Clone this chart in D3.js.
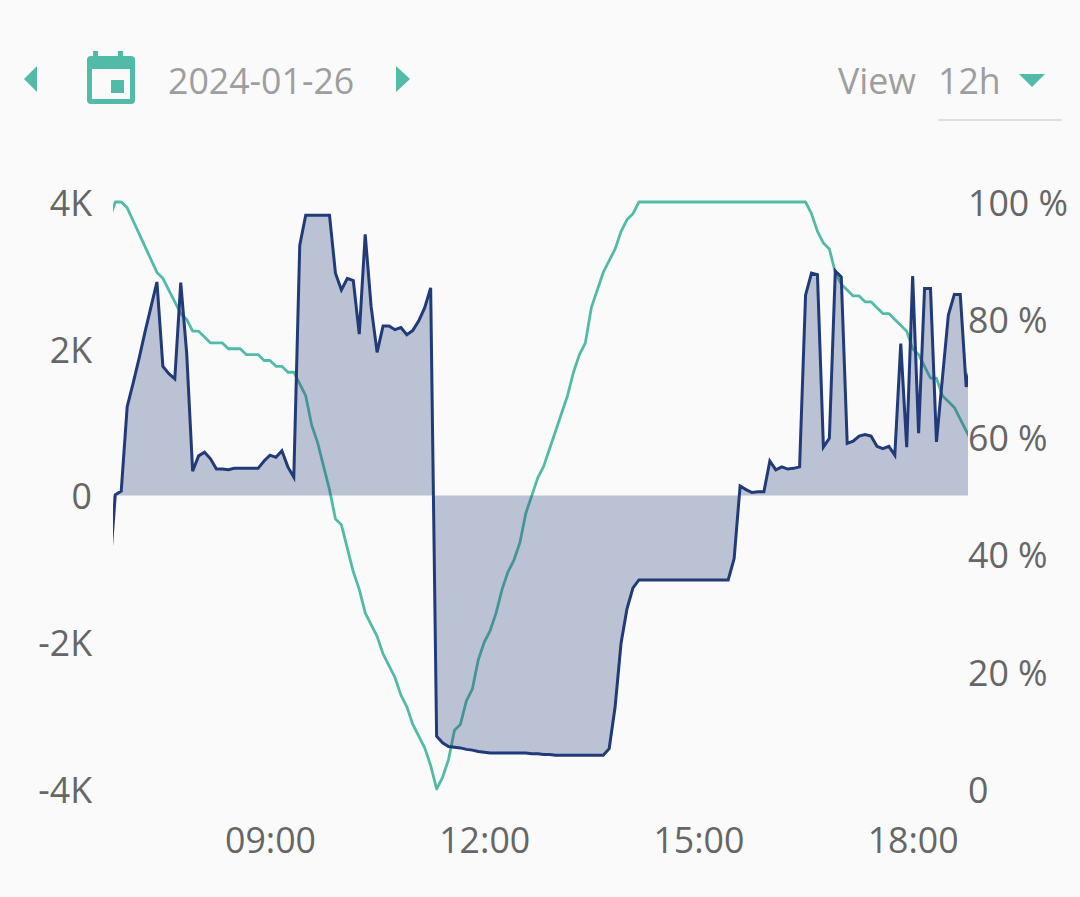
<!DOCTYPE html>
<html>
<head>
<meta charset="utf-8">
<script src="https://cdn.jsdelivr.net/npm/d3@7"></script>
<style>
  html, body { margin: 0; background: #fafafa; }
  svg { display: block; }
  text { font-family: "Open Sans", sans-serif; }
</style>
</head>
<body>
<script>
// samples every 5 minutes, first one at 06:45
const startTime = new Date(2024, 0, 26, 6, 45);
const stepMinutes = 5;

// power in K
const power = [
  -1.10, 0.01, 0.06, 1.21, 1.53, 1.87, 2.23, 2.57, 2.91, 1.76,
  1.66, 1.59, 2.90, 1.94, 0.33, 0.54, 0.59, 0.50, 0.36, 0.36,
  0.35, 0.37, 0.37, 0.37, 0.37, 0.37, 0.47, 0.55, 0.52, 0.61,
  0.39, 0.25, 3.41, 3.82, 3.82, 3.82, 3.82, 3.82, 3.03, 2.80,
  2.96, 2.93, 2.20, 3.56, 2.57, 1.95, 2.31, 2.31, 2.26, 2.29,
  2.19, 2.25, 2.38, 2.56, 2.83, -3.28, -3.37, -3.42, -3.43, -3.44,
  -3.46, -3.47, -3.49, -3.50, -3.51, -3.51, -3.51, -3.51, -3.51, -3.51,
  -3.51, -3.52, -3.52, -3.53, -3.53, -3.54, -3.54, -3.54, -3.54, -3.54,
  -3.54, -3.54, -3.54, -3.54, -3.45, -2.88, -2.01, -1.54, -1.26, -1.15,
  -1.15, -1.15, -1.15, -1.15, -1.15, -1.15, -1.15, -1.15, -1.15, -1.15,
  -1.15, -1.15, -1.15, -1.15, -1.15, -0.86, 0.13, 0.08, 0.04, 0.05,
  0.05, 0.47, 0.35, 0.39, 0.36, 0.37, 0.39, 2.73, 3.03, 3.01,
  0.66, 0.78, 3.06, 2.98, 0.71, 0.74, 0.81, 0.83, 0.81, 0.67,
  0.64, 0.67, 0.55, 2.07, 0.66, 2.99, 0.85, 2.82, 2.82, 0.73,
  1.60, 2.46, 2.74, 2.74, 1.48, 1.85
];

// battery level in %
const level = [
  97, 100, 100, 99, 96.8, 94.6, 92.4, 90.2, 88, 87,
  85, 83, 81, 80, 78, 78, 77, 76, 76, 76,
  75, 75, 75, 74, 74, 74, 73, 73, 72, 72,
  71, 71, 69, 67, 62, 59, 55, 51, 46, 45,
  41, 37, 34, 30, 28, 26, 23, 21, 19, 16,
  14, 11, 9, 7, 4, 0, 2, 5, 10, 11,
  15, 17, 22, 25, 27, 30, 34, 37, 39, 42,
  47, 50, 53, 55, 58, 61, 64, 67, 71, 74,
  76, 82, 85, 88, 90, 92, 95, 97, 98, 100,
  100, 100, 100, 100, 100, 100, 100, 100, 100, 100,
  100, 100, 100, 100, 100, 100, 100, 100, 100, 100,
  100, 100, 100, 100, 100, 100, 100, 100, 98, 95,
  93, 92, 88, 86, 85, 84, 84, 83, 83, 82,
  81, 81, 80, 79, 78, 75, 74, 72, 70, 70,
  67, 66, 65, 63, 61, 59
];

const powerTicks = [-4, -2, 0, 2, 4];
const levelTicks = [0, 20, 40, 60, 80, 100];
const hourTicks = [9, 12, 15, 18];

const width = 1080, height = 897;
const teal = "#52bba8", navy = "#213a78", grey = "#9e9e9e", axisGrey = "#666666";
const fontSize = 35.7;

const svg = d3.select("body").append("svg")
    .attr("width", width)
    .attr("height", height);

const times = power.map((d, i) => d3.timeMinute.offset(startTime, i * stepMinutes));

const x = d3.scaleTime()
    .domain([new Date(2024, 0, 26, 6, 48, 5), new Date(2024, 0, 26, 18, 46, 30)])
    .range([113, 968]);
const yPower = d3.scaleLinear().domain([-4, 4]).range([789, 202]);
const yLevel = d3.scaleLinear().domain([0, 100]).range([789, 202]);

svg.append("clipPath").attr("id", "plot")
  .append("rect")
    .attr("x", 113).attr("y", 190)
    .attr("width", 855).attr("height", 610);

const plot = svg.append("g").attr("clip-path", "url(#plot)");

// level goes under the area, it shows through
plot.append("path")
    .attr("fill", "none")
    .attr("stroke", teal)
    .attr("stroke-width", 2.8)
    .attr("stroke-linejoin", "round")
    .attr("d", d3.line().x((d, i) => x(times[i])).y(d => yLevel(d))(level));

plot.append("path")
    .attr("fill", navy)
    .attr("fill-opacity", 0.29)
    .attr("d", d3.area().x((d, i) => x(times[i])).y0(yPower(0)).y1(d => yPower(d))(power));

plot.append("path")
    .attr("fill", "none")
    .attr("stroke", navy)
    .attr("stroke-width", 3)
    .attr("stroke-linejoin", "miter")
    .attr("d", d3.line().x((d, i) => x(times[i])).y(d => yPower(d))(power));

// axes
function styleAxis(g) {
  g.attr("font-family", null).attr("font-size", fontSize);
  g.select(".domain").remove();
  g.selectAll("text").attr("fill", axisGrey);
}

svg.append("g")
    .attr("transform", "translate(92,2)")
    .call(d3.axisLeft(yPower).tickValues(powerTicks).tickSize(0).tickPadding(0)
      .tickFormat(d => d === 0 ? "0" : d + "K"))
    .call(styleAxis);

svg.append("g")
    .attr("transform", "translate(968,2)")
    .call(d3.axisRight(yLevel).tickValues(levelTicks).tickSize(0).tickPadding(0)
      .tickFormat(d => d === 0 ? "0" : d + " %"))
    .call(styleAxis);

svg.append("g")
    .attr("transform", "translate(0,827.5)")
    .call(d3.axisBottom(x)
      .tickValues(hourTicks.map(h => new Date(2024, 0, 26, h)))
      .tickSize(0).tickPadding(0)
      .tickFormat(d3.timeFormat("%H:%M")))
    .call(styleAxis);

// header controls
const header = svg.append("g");

function triangle(a, b, c) {
  const p = d3.path();
  p.moveTo(a[0], a[1]);
  p.lineTo(b[0], b[1]);
  p.lineTo(c[0], c[1]);
  p.closePath();
  return p.toString();
}

header.append("path").attr("fill", teal).attr("d", triangle([24, 79], [37, 66], [37, 92]));
header.append("path").attr("fill", teal).attr("d", triangle([410, 79], [396, 66], [396, 92]));
header.append("path").attr("fill", teal).attr("d", triangle([1019, 74], [1045, 74], [1032, 87]));

header.append("rect").attr("x", 87).attr("y", 56).attr("width", 48).attr("height", 48).attr("rx", 4).attr("fill", teal);
header.append("rect").attr("x", 93).attr("y", 51).attr("width", 5).attr("height", 8).attr("fill", teal);
header.append("rect").attr("x", 118).attr("y", 51).attr("width", 5).attr("height", 8).attr("fill", teal);
header.append("rect").attr("x", 92).attr("y", 69).attr("width", 38).attr("height", 30).attr("fill", "#fafafa");
header.append("rect").attr("x", 111).attr("y", 80).attr("width", 13).attr("height", 13).attr("fill", teal);

header.append("text").attr("x", 168).attr("y", 94).attr("font-size", fontSize).attr("fill", grey).text("2024-01-26");
header.append("text").attr("x", 838).attr("y", 94).attr("font-size", fontSize).attr("fill", grey).text("View");
header.append("text").attr("x", 938).attr("y", 94).attr("font-size", fontSize).attr("fill", grey).text("12h");

header.append("line")
    .attr("x1", 938).attr("x2", 1062)
    .attr("y1", 120).attr("y2", 120)
    .attr("stroke", "#c4c4c4")
    .attr("stroke-width", 1.2);
</script>
</body>
</html>
